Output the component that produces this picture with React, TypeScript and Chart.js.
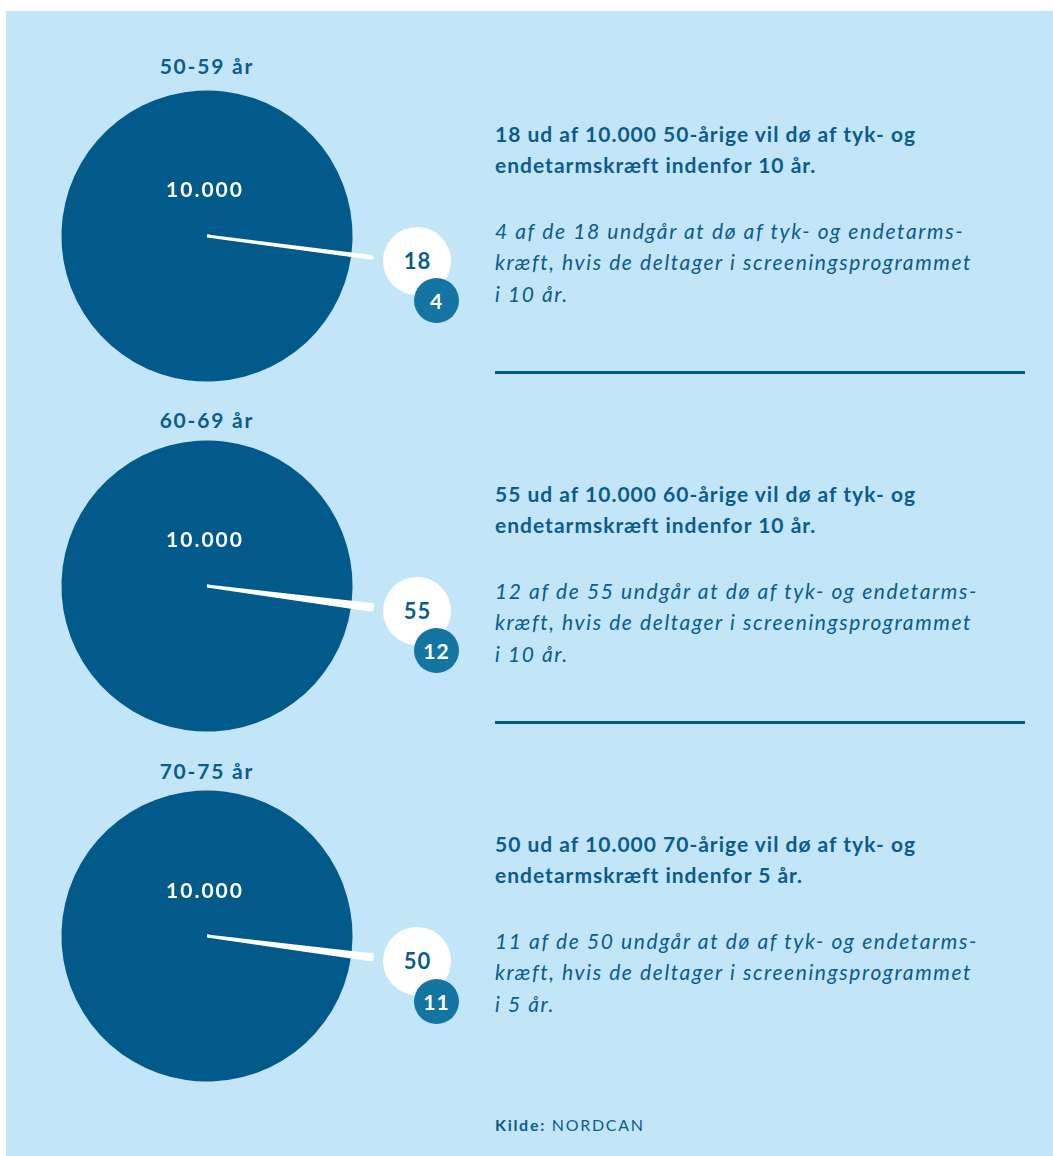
import React, { useEffect, useRef } from "react";
import { Chart, registerables } from "chart.js";

Chart.register(...registerables);

// ---- data ----
const ageGroups = ["50-59 år", "60-69 år", "70-75 år"];
const ages = [50, 60, 70];
const population = [10000, 10000, 10000];
const deaths = [18, 55, 50];
const prevented = [4, 12, 11];
const years = [10, 10, 5];
const sourceLabel = "Kilde:";
const sourceName = "NORDCAN";

// ---- style ----
const FONT = "Lato, 'Open Sans', sans-serif";
const BG = "#c2e6f8";
const DARK = "#015a8a";
const TEXT = "#0b5b8b";
const TEAL = "#1475a2";
const PIE_CX = 207;
const PIE_CY = [235.5, 585.5, 936];
const HEAD_Y = [65, 419, 770];
const BOLD_Y = [133, 493, 843];
const RULE_Y = [372, 722];
const CANVAS = 336;
const RING_W = 21;
const PIE_R = 146;
const WEDGE_BORDER = 3;

function fmt(n: number): string {
  return String(n).replace(/\B(?=(\d{3})+(?!\d))/g, ".");
}

function PieCanvas({ idx }: { idx: number }) {
  const ref = useRef<HTMLCanvasElement | null>(null);
  useEffect(() => {
    const total = population[idx];
    const d = deaths[idx];
    const f = d / total;
    const chart = new Chart(ref.current as HTMLCanvasElement, {
      type: "pie",
      data: {
        labels: ["Øvrige", "Dør af tyk- og endetarmskræft"],
        datasets: [
          {
            data: [total - d, d],
            backgroundColor: ["rgba(0,0,0,0)", "#ffffff"],
            borderColor: ["rgba(0,0,0,0)", "#ffffff"],
            borderWidth: [0, WEDGE_BORDER],
            borderJoinStyle: "bevel",
            weight: RING_W,
          } as any,
          {
            data: [total - d, d],
            backgroundColor: [DARK, "#ffffff"],
            borderColor: [DARK, "#ffffff"],
            borderWidth: [0, WEDGE_BORDER],
            borderJoinStyle: "bevel",
            weight: PIE_R,
          } as any,
        ],
      },
      options: {
        animation: false,
        responsive: false,
        events: [],
        rotation: -262.6 + 180 * f,
        layout: { padding: 0 },
        plugins: { legend: { display: false }, tooltip: { enabled: false } },
      } as any,
    });
    return () => chart.destroy();
  }, [idx]);
  return (
    <canvas
      ref={ref}
      width={CANVAS}
      height={CANVAS}
      style={{
        position: "absolute",
        left: PIE_CX - CANVAS / 2,
        top: PIE_CY[idx] - CANVAS / 2,
        width: CANVAS,
        height: CANVAS,
      }}
    />
  );
}

function Line({ x, y, text, size, weight, italic, color, ls }: any) {
  const lh = size;
  return (
    <div
      style={{
        position: "absolute",
        left: x,
        top: y - lh / 2,
        lineHeight: lh + "px",
        fontSize: size,
        fontWeight: weight,
        fontStyle: italic ? "italic" : "normal",
        letterSpacing: ls,
        color,
        whiteSpace: "nowrap",
        fontFamily: FONT,
      }}
    >
      {text}
    </div>
  );
}

function Centered({ cx, cy, text, size, color, ls }: any) {
  return (
    <div
      style={{
        position: "absolute",
        left: cx - 100,
        width: 200,
        top: cy - size / 2,
        lineHeight: size + "px",
        fontSize: size,
        fontWeight: 700,
        letterSpacing: ls,
        color,
        textAlign: "center",
        whiteSpace: "nowrap",
        fontFamily: FONT,
      }}
    >
      <span style={{ marginRight: -ls }}>{text}</span>
    </div>
  );
}

function Bubble({ cx, cy, r, bg, color, text, size, ls }: any) {
  return (
    <div
      style={{
        position: "absolute",
        left: cx - r,
        top: cy - r,
        width: 2 * r,
        height: 2 * r,
        borderRadius: "50%",
        background: bg,
        color,
        display: "flex",
        alignItems: "center",
        justifyContent: "center",
        fontSize: size,
        fontWeight: 700,
        letterSpacing: ls,
        fontFamily: FONT,
        lineHeight: 1,
      }}
    >
      <span style={{ marginRight: -ls }}>{text}</span>
    </div>
  );
}

export default function App() {
  const TX = 495;
  return (
    <div
      style={{
        position: "absolute",
        left: 0,
        top: 0,
        width: 1053,
        height: 1156,
        background: "#ffffff",
        overflow: "hidden",
        fontFamily: FONT,
      }}
    >
      <div
        style={{
          position: "absolute",
          left: 6,
          top: 11,
          width: 1047,
          height: 1145,
          background: BG,
        }}
      />
      {ageGroups.map((g, i) => {
        const cy = PIE_CY[i];
        const by = BOLD_Y[i];
        return (
          <React.Fragment key={g}>
            <Centered cx={PIE_CX - 1} cy={HEAD_Y[i]} text={g} size={21} color={TEXT} ls={1.8} />
            <PieCanvas idx={i} />
            <Centered cx={PIE_CX - 3} cy={cy - 47} text={fmt(population[i])} size={21} color="#ffffff" ls={2} />
            <Bubble cx={PIE_CX + 210} cy={cy + 25} r={34} bg="#ffffff" color={TEXT} text={String(deaths[i])} size={22} ls={1} />
            <Bubble cx={PIE_CX + 229} cy={cy + 65} r={22.5} bg={TEAL} color="#ffffff" text={String(prevented[i])} size={21} ls={1} />
            <Line x={TX} y={by} size={21} weight={700} color={TEXT} ls={1.0}
              text={`${deaths[i]} ud af ${fmt(population[i])} ${ages[i]}-årige vil dø af tyk- og`} />
            <Line x={TX} y={by + 31} size={21} weight={700} color={TEXT} ls={1.0}
              text={`endetarmskræft indenfor ${years[i]} år.`} />
            <Line x={TX} y={by + 97} size={21} weight={400} italic color={TEXT} ls={1.6}
              text={`${prevented[i]} af de ${deaths[i]} undgår at dø af tyk- og endetarms-`} />
            <Line x={TX} y={by + 128} size={21} weight={400} italic color={TEXT} ls={1.6}
              text={`kræft, hvis de deltager i screeningsprogrammet`} />
            <Line x={TX} y={by + 160} size={21} weight={400} italic color={TEXT} ls={1.6}
              text={`i ${years[i]} år.`} />
          </React.Fragment>
        );
      })}
      {RULE_Y.map((y) => (
        <div
          key={y}
          style={{ position: "absolute", left: 495, top: y - 1.5, width: 530, height: 3, background: DARK }}
        />
      ))}
      <div
        style={{
          position: "absolute",
          left: 495,
          top: 1125 - 8,
          lineHeight: "16px",
          fontSize: 16,
          letterSpacing: 1.7,
          color: TEXT,
          fontFamily: FONT,
          whiteSpace: "nowrap",
        }}
      >
        <span style={{ fontWeight: 700 }}>{sourceLabel}</span> {sourceName}
      </div>
    </div>
  );
}
